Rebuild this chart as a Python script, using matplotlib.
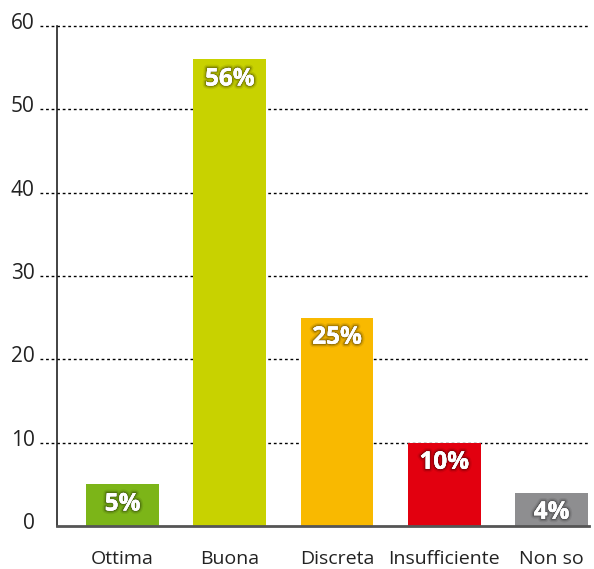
import matplotlib
matplotlib.use("Agg")
import matplotlib.pyplot as plt
import matplotlib.patheffects as pe
from matplotlib.transforms import ScaledTranslation

categories = ["Ottima", "Buona", "Discreta", "Insufficiente", "Non so"]
values = [5, 56, 25, 10, 4]
colors = ["#7cb518", "#c8d200", "#f9b900", "#e2000f", "#8e8e90"]
yticks = [0, 10, 20, 30, 40, 50, 60]

plt.rcParams['font.family'] = ['Open Sans', 'DejaVu Sans']

W, H = 594, 569
fig = plt.figure(figsize=(W/100, H/100), dpi=100)
left, right, bottom, top = 57, 589, 526, 26
ax = fig.add_axes([left/W, (H-bottom)/H, (right-left)/W, (bottom-top)/H])

x = list(range(len(categories)))
ax.bar(x, values, width=0.68, color=colors, zorder=3)
ax.set_xlim(-0.611, 4.35)
ax.set_ylim(0, 60)

# gridlines extending left of axis
ext = -17/(right-left)
for yv in yticks[1:]:
    ax.plot([ext, 1], [yv, yv], transform=ax.get_yaxis_transform(),
            color="black", linestyle=(0, (2, 2)), linewidth=1.0,
            clip_on=False, zorder=2)

ax.set_yticks(yticks)
ax.tick_params(axis='y', length=0, pad=16, labelsize=15, labelcolor="#222222")
off = ScaledTranslation(0, 3.5/72, fig.dpi_scale_trans)
for lab in ax.get_yticklabels():
    lab.set_transform(lab.get_transform() + off)

ax.set_xticks(x)
ax.set_xticklabels(categories)
ax.tick_params(axis='x', length=0, pad=17, labelsize=14, labelcolor="#222222")

for s in ["top", "right"]:
    ax.spines[s].set_visible(False)
ax.spines["left"].set_color("#222222")
ax.spines["left"].set_linewidth(1.2)
ax.spines["bottom"].set_color("#555555")
ax.spines["bottom"].set_linewidth(2)
ax.spines["bottom"].set_zorder(4)

effects = [pe.withStroke(linewidth=5, foreground=(0, 0, 0, 0.08)),
           pe.withStroke(linewidth=3, foreground=(0, 0, 0, 0.15)),
           pe.withStroke(linewidth=1.5, foreground=(0, 0, 0, 0.2)),
           pe.Normal()]
for xi, v in zip(x, values):
    ax.annotate(f"{v}%", (xi, v), xytext=(0, -14.5), textcoords="offset points",
                ha="center", va="center", color="white", fontsize=17.5,
                fontweight="bold", zorder=5, path_effects=effects)

fig.savefig("out.png", dpi=100)
